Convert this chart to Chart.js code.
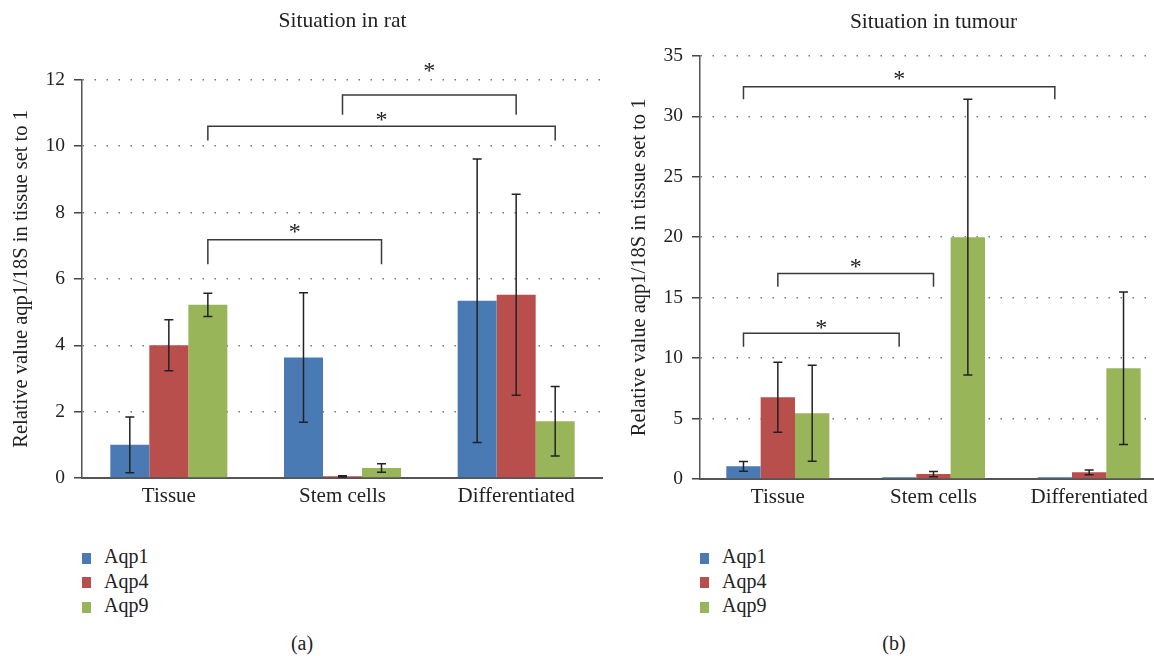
<!DOCTYPE html>
<html>
<head>
<meta charset="utf-8">
<script src="https://cdn.jsdelivr.net/npm/chart.js@4.4.1/dist/chart.umd.min.js"></script>
<style>
body { margin:0; width:1154px; height:656px; overflow:hidden; background:#fff; position:relative; font-family:"Liberation Serif", serif; color:#222; }
canvas { position:absolute; top:0; }
#ratChart { left:0; }
#tumourChart { left:600px; }
.legend { position:absolute; top:544px; font-size:20px; }
.legend div { height:24.5px; line-height:24.5px; white-space:nowrap; }
.legend span { display:inline-block; width:9px; height:11px; margin-right:13px; vertical-align:middle; }
.caption { position:absolute; top:631px; width:60px; font-size:20px; line-height:24px; text-align:center; }
</style>
</head>
<body>
<canvas id="ratChart" width="603" height="518"></canvas>
<canvas id="tumourChart" width="567" height="519"></canvas>

<div class="legend" id="ratLegend" style="left:82px"></div>
<div class="legend" id="tumourLegend" style="left:700px"></div>
<div class="caption" style="left:272px">(a)</div>
<div class="caption" style="left:864px">(b)</div>

<script>
const categories = ['Tissue', 'Stem cells', 'Differentiated'];
const seriesNames = ['Aqp1', 'Aqp4', 'Aqp9'];
const seriesColors = ['#4A7AB4', '#B94F4C', '#98B659'];

// situation in rat
const ratAqp1 = [1.0, 3.63, 5.34];
const ratAqp4 = [4.0, 0.05, 5.52];
const ratAqp9 = [5.22, 0.3, 1.71];
const ratErr1 = [0.84, 1.95, 4.27];
const ratErr4 = [0.77, 0.02, 3.03];
const ratErr9 = [0.35, 0.13, 1.05];
const ratTicks = [0, 2, 4, 6, 8, 10, 12];
// significance: [category, series] at both ends, bracket top, leg end, asterisk
const ratBrackets = [
  { from: [0, 2], to: [1, 2], top: 7.18, leg: 6.44, star: 7.52 },
  { from: [0, 2], to: [2, 2], top: 10.6, leg: 10.17, star: 10.92 },
  { from: [1, 1], to: [2, 1], top: 11.54, leg: 10.95, star: 12.38 }
];

// situation in tumour
const tumAqp1 = [1.05, 0.15, 0.15];
const tumAqp4 = [6.76, 0.41, 0.55];
const tumAqp9 = [5.44, 20.0, 9.16];
const tumErr1 = [0.4, 0, 0];
const tumErr4 = [2.9, 0.22, 0.2];
const tumErr9 = [3.97, 11.4, 6.3];
const tumTicks = [0, 5, 10, 15, 20, 25, 30, 35];
const tumBrackets = [
  { from: [0, 0], to: [2, 0], top: 32.45, leg: 31.4, star: 33.45 },
  { from: [0, 1], to: [1, 1], top: 17.0, leg: 15.9, star: 17.87 },
  { from: [0, 0], to: [1, 0], top: 12.05, leg: 10.94, star: 12.82 }
];

const serif = 'Liberation Serif';

// error bars + brackets, drawn on top of the bars
function marks(errors, brackets) {
  return {
    id: 'marks',
    afterDatasetsDraw(chart) {
      const ctx = chart.ctx;
      const y = chart.scales.y;
      ctx.save();
      ctx.strokeStyle = '#222';
      ctx.lineWidth = 1.5;
      errors.forEach((errs, i) => {
        const meta = chart.getDatasetMeta(i);
        meta.data.forEach((bar, j) => {
          const v = chart.data.datasets[i].data[j];
          const e = errs[j];
          if (!e) return;
          const y1 = y.getPixelForValue(v + e);
          const y2 = y.getPixelForValue(Math.max(v - e, 0));
          ctx.beginPath();
          ctx.moveTo(bar.x, y1); ctx.lineTo(bar.x, y2);
          ctx.moveTo(bar.x - 4.5, y1); ctx.lineTo(bar.x + 4.5, y1);
          ctx.moveTo(bar.x - 4.5, y2); ctx.lineTo(bar.x + 4.5, y2);
          ctx.stroke();
        });
      });

      ctx.strokeStyle = '#3a3a3a';
      ctx.fillStyle = '#222';
      ctx.font = '24px "' + serif + '"';
      ctx.textAlign = 'center';
      ctx.textBaseline = 'alphabetic';
      brackets.forEach(b => {
        const x1 = chart.getDatasetMeta(b.from[1]).data[b.from[0]].x;
        const x2 = chart.getDatasetMeta(b.to[1]).data[b.to[0]].x;
        const yt = y.getPixelForValue(b.top);
        const yl = y.getPixelForValue(b.leg);
        ctx.beginPath();
        ctx.moveTo(x1, yl); ctx.lineTo(x1, yt); ctx.lineTo(x2, yt); ctx.lineTo(x2, yl);
        ctx.stroke();
        ctx.fillText('*', (x1 + x2) / 2, y.getPixelForValue(b.star) + 11);
      });
      ctx.restore();
    }
  };
}

function makeChart(id, title, series, errors, brackets, ticks, catPct, yWidth, titlePad, yTitlePad) {
  return new Chart(document.getElementById(id), {
    type: 'bar',
    data: {
      labels: categories,
      datasets: series.map((d, i) => ({
        label: seriesNames[i],
        data: d,
        backgroundColor: seriesColors[i],
        borderWidth: 0,
        categoryPercentage: catPct,
        barPercentage: 1.0
      }))
    },
    options: {
      responsive: false,
      animation: false,
      layout: { padding: 0 },
      plugins: {
        legend: { display: false },
        tooltip: { enabled: false },
        title: {
          display: true,
          text: title,
          fullSize: false,
          color: '#222',
          font: { family: serif, size: 21.5, weight: 'normal' },
          padding: titlePad
        }
      },
      scales: {
        x: {
          grid: { display: false, drawTicks: false },
          border: { display: true, color: '#555', width: 2 },
          ticks: { color: '#222', padding: 6, font: { family: serif, size: 21 } },
          afterFit: s => { s.height = 40; }
        },
        y: {
          min: ticks[0],
          max: ticks[ticks.length - 1],
          ticks: { stepSize: ticks[1] - ticks[0], color: '#222', padding: 9, font: { family: serif, size: 19.5 } },
          grid: { color: '#777', lineWidth: 1.5, tickLength: 8, tickColor: '#444', tickWidth: 1.5 },
          border: { display: true, color: '#555', width: 1.5, dash: [1.5, 10.5] },
          title: {
            display: true,
            text: 'Relative value aqp1/18S in tissue set to 1',
            color: '#222',
            font: { family: serif, size: 20.5 },
            padding: { top: yTitlePad, bottom: 0 }
          },
          afterFit: s => { s.width = yWidth; }
        }
      }
    },
    plugins: [marks(errors, brackets)]
  });
}

makeChart('ratChart', 'Situation in rat',
  [ratAqp1, ratAqp4, ratAqp9], [ratErr1, ratErr4, ratErr9], ratBrackets,
  ratTicks, 0.674, 82, { top: 8, bottom: 46 }, 9);

makeChart('tumourChart', 'Situation in tumour',
  [tumAqp1, tumAqp4, tumAqp9], [tumErr1, tumErr4, tumErr9], tumBrackets,
  tumTicks, 0.662, 100, { top: 9, bottom: 21 }, 27);

// legends
['ratLegend', 'tumourLegend'].forEach(id => {
  const box = document.getElementById(id);
  seriesNames.forEach((name, i) => {
    const row = document.createElement('div');
    const sw = document.createElement('span');
    sw.style.background = seriesColors[i];
    row.appendChild(sw);
    row.appendChild(document.createTextNode(name));
    box.appendChild(row);
  });
});
</script>
</body>
</html>
